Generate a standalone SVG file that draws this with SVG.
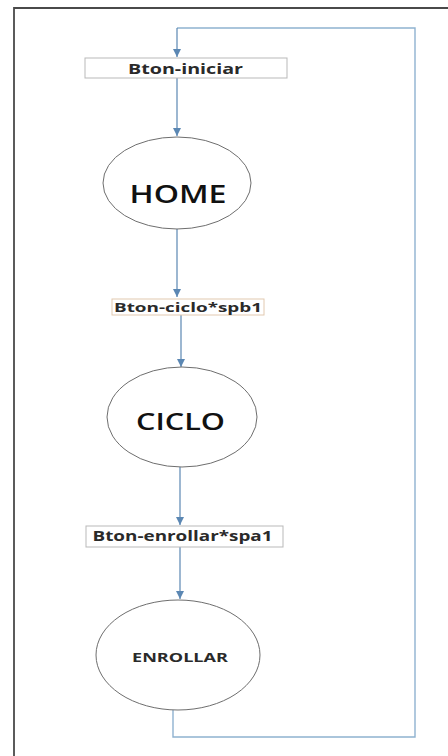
<svg xmlns="http://www.w3.org/2000/svg" width="448" height="756" viewBox="0 0 448 756">
<style>
.frame{fill:none;stroke:#4a4a4a;stroke-width:1.8}
.box{fill:#fff;stroke:#b9b9b9;stroke-width:1}
.box2{fill:#fff;stroke:#e2c9b0;stroke-width:1}
.ell{fill:#fff;stroke:#6e6e6e;stroke-width:1}
.conn{fill:none;stroke:#5b87b3;stroke-width:1.2}
.loop{fill:none;stroke:#8fb2d0;stroke-width:1.4}
.lbl{font-family:"Open Sans","DejaVu Sans",sans-serif;font-weight:bold;fill:#2a2a2a;text-anchor:middle}
.big{font-family:"Open Sans","DejaVu Sans",sans-serif;font-weight:600;fill:#111;text-anchor:middle}
</style>
<defs>
<marker id="ah" viewBox="0 0 10 10" refX="10" refY="5" markerWidth="8" markerHeight="8" markerUnits="userSpaceOnUse" orient="auto">
<path d="M0,0 L10,5 L0,10 z" fill="#5b87b3"/>
</marker>
</defs>
<rect width="448" height="756" fill="#fff"/>
<path class="frame" d="M14,756 V8 H448"/>
<g id="connectors">
<path class="loop" d="M173,710 V737 H415 V28 H177"/>
<path class="conn" d="M177,28 V57" marker-end="url(#ah)"/>
<path class="conn" d="M177,78 V136" marker-end="url(#ah)"/>
<path class="conn" d="M177,228 V297" marker-end="url(#ah)"/>
<path class="conn" d="M181,315 V367" marker-end="url(#ah)"/>
<path class="conn" d="M180,467 V525" marker-end="url(#ah)"/>
<path class="conn" d="M180,547 V599" marker-end="url(#ah)"/>
</g>
<g id="n-iniciar">
<rect class="box" x="85" y="58" width="202" height="20"/>
<text class="lbl" x="185.5" y="73.5" font-size="14" textLength="115" lengthAdjust="spacingAndGlyphs">Bton-iniciar</text>
</g>
<g id="n-home">
<ellipse class="ell" cx="177" cy="183" rx="74" ry="46"/>
<text class="big" x="178" y="203" font-size="25" textLength="97" lengthAdjust="spacingAndGlyphs">HOME</text>
</g>
<g id="n-ciclo-btn">
<rect class="box2" x="112" y="299" width="152" height="16"/>
<text class="lbl" x="188" y="311.5" font-size="13" textLength="148" lengthAdjust="spacingAndGlyphs">Bton-ciclo*spb1</text>
</g>
<g id="n-ciclo">
<ellipse class="ell" cx="182" cy="417" rx="75" ry="50"/>
<text class="big" x="180.5" y="430" font-size="24" textLength="89" lengthAdjust="spacingAndGlyphs">CICLO</text>
</g>
<g id="n-enrollar-btn">
<rect class="box" x="86" y="526" width="197" height="21"/>
<text class="lbl" x="182.5" y="541" font-size="14.5" textLength="180" lengthAdjust="spacingAndGlyphs">Bton-enrollar*spa1</text>
</g>
<g id="n-enrollar">
<ellipse class="ell" cx="178" cy="655" rx="82" ry="55"/>
<text class="lbl" x="180" y="662" font-size="12.5" textLength="96" lengthAdjust="spacingAndGlyphs">ENROLLAR</text>
</g>
</svg>
